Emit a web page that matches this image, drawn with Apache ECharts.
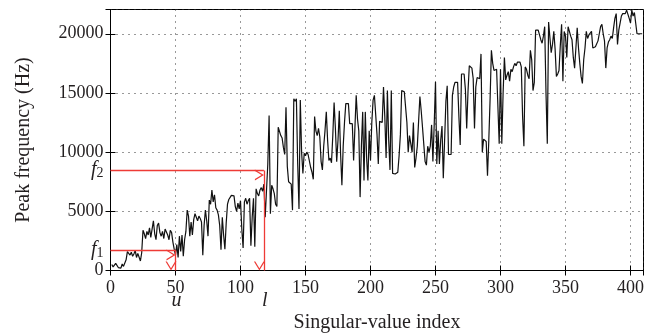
<!DOCTYPE html>
<html><head><meta charset="utf-8">
<script src="https://cdn.jsdelivr.net/npm/echarts@6/dist/echarts.min.js"></script>
<style>html,body{margin:0;padding:0;background:#fff}#c{width:656px;height:336px}</style>
</head><body><div id="c"></div>
<script>
// Peak frequency (Hz) for singular-value index 1..409
const peakFrequency = [
500,300,350,600,450,250,300,200,550,350,
400,900,1600,1500,1300,1550,1200,1400,1700,1100,
1450,1600,800,1500,3400,3100,2700,3300,3000,3600,
2800,3500,4200,3100,2600,3800,4000,3200,2900,3300,
2700,3500,3600,3000,2600,3400,3200,2400,1800,1300,
2200,1100,2900,1600,3000,1200,2600,3300,5100,4600,
2900,4100,3000,4300,4800,4500,4200,4600,4400,4100,
1300,3800,5100,4200,2900,5950,5600,6800,5800,6400,
5300,5100,4700,3800,1750,4500,3000,1800,4000,5600,
6000,6100,6350,6500,6300,5400,5000,5700,5200,5900,
3500,1900,5800,6100,5600,5900,6100,2100,4500,6100,
2000,6900,6500,6300,6800,7000,6700,7300,4500,4600,
9000,13100,4800,7200,6900,6500,5600,5400,12100,12000,
11400,11200,10400,9800,13800,8800,7500,7600,7300,5100,
14500,14300,14500,9000,5200,14400,10000,8200,9900,9700,
10000,9800,9900,8700,8300,7700,13000,11800,11400,12000,
11300,9200,8500,10500,11800,13400,11000,9300,9500,9100,
11400,14200,12000,9200,11000,13500,9800,7200,10500,12500,
14100,14000,14100,12400,12500,12400,9300,12000,14800,12800,
11800,6200,10500,13400,7600,13400,9500,7600,11800,9300,
12500,14400,14800,14700,11500,9000,12600,12600,12500,15500,
13000,9500,15200,11000,8500,15200,8200,8100,8150,8200,
8300,9700,11500,15200,15200,15100,15200,12500,10000,11400,
11500,10000,12500,8700,9500,10500,12600,14700,13500,12100,
12100,9200,8900,10500,10000,10500,12300,9200,12300,15950,
9000,11800,9000,11000,12200,7800,11000,14300,15600,9800,
9900,9800,14800,15500,15900,15800,15900,13000,10600,16600,
16500,16600,15300,12000,15100,17300,17200,17100,16200,12000,
15500,16300,16300,16200,18300,10000,11100,11200,10900,8000,
11000,14500,18600,17500,16900,16800,17000,16900,10700,17000,
10700,15000,18000,16100,16500,16800,16000,17000,16800,17200,
17500,17300,17600,17500,17600,17200,13000,10500,17200,17000,
16500,16200,18600,17800,15200,15900,20300,20200,20300,19900,
19500,19200,19800,20600,15000,10700,21000,20900,18400,19100,
20200,18700,16400,16600,16900,19000,20800,16000,20200,19800,
18000,20600,20200,19800,19500,18000,17100,18800,20500,18800,
17500,16400,15800,17800,18800,20200,19600,19900,20000,20200,
18800,18900,18900,18800,19400,20000,20600,20800,20000,19400,
17100,18800,19300,19500,19800,19600,20500,21300,21700,19100,
20300,20900,21500,21700,21800,21700,22000,22050,21300,20900,
22000,21500,21800,21900,20000,20000,20000,20000,20000
];
const markerIndexNames = ['u', 'l'];
const markerIndices = [50, 118];
const markerFreqSubs = ['1', '2'];
const markerFreqs = [1700, 8450];
const xAxisTitle = 'Singular-value index';
const yAxisTitle = 'Peak frequency (Hz)';

const FONT = 'Liberation Serif';
const TXT = '#231f20';
const RED = '#ee3b36';
const chevron = 'path://M0,10 L5,0 L10,10 L8.7,10 L5,2.6 L1.3,10 Z';

const seriesData = peakFrequency.map((v, i) => [i + 1, v]);
const arrowSegments = [];
markerIndices.forEach((ix, k) => {
  arrowSegments.push([{coord: [0, markerFreqs[k]]}, {coord: [ix, markerFreqs[k]]}]);
  arrowSegments.push([{coord: [ix, markerFreqs[k]]}, {coord: [ix, 0]}]);
});

const plain = v => String(v);
const gridLine = {show: true, lineStyle: {color: '#333', width: 1, type: [1, 5]}};
const chart = echarts.init(document.getElementById('c'), null, {renderer: 'canvas'});
chart.setOption({
  animation: false,
  backgroundColor: '#fff',
  grid: {left: 110.5, right: 12.5, top: 9.5, bottom: 65.5, show: true, borderColor: '#000', borderWidth: 1, outerBoundsMode: 'none'},
  xAxis: [{
    type: 'value', min: 0, max: 410, interval: 50, position: 'bottom',
    name: xAxisTitle, nameLocation: 'middle', nameGap: 42,
    nameTextStyle: {fontFamily: FONT, fontSize: 20, color: TXT},
    axisLine: {show: true, lineStyle: {color: '#000'}},
    axisTick: {show: true, inside: true, length: 5, lineStyle: {color: '#000'}},
    axisLabel: {fontFamily: FONT, fontSize: 18, color: TXT, margin: 9, showMaxLabel: false, formatter: plain},
    splitLine: gridLine
  }, {
    type: 'value', min: 0, max: 410, interval: 50, position: 'top',
    axisLine: {show: true, lineStyle: {color: '#000'}},
    axisTick: {show: true, inside: true, length: 5, lineStyle: {color: '#000'}},
    axisLabel: {show: false}, splitLine: {show: false}
  }],
  yAxis: [{
    type: 'value', min: 0, max: 22050, interval: 5000, position: 'left',
    name: yAxisTitle, nameLocation: 'middle', nameGap: 77, nameRotate: 90,
    nameTextStyle: {fontFamily: FONT, fontSize: 20, color: TXT},
    axisLine: {show: true, lineStyle: {color: '#000'}},
    axisTick: {show: true, inside: true, length: 5, lineStyle: {color: '#000'}},
    axisLabel: {fontFamily: FONT, fontSize: 18, color: TXT, margin: 7, showMaxLabel: false, formatter: plain},
    splitLine: gridLine
  }, {
    type: 'value', min: 0, max: 22050, interval: 5000, position: 'right',
    axisLine: {show: true, lineStyle: {color: '#000'}},
    axisTick: {show: true, inside: true, length: 5, lineStyle: {color: '#000'}},
    axisLabel: {show: false}, splitLine: {show: false}
  }],
  series: [{
    type: 'line', data: seriesData, showSymbol: false, symbol: 'none',
    lineStyle: {color: '#111', width: 1.2}, z: 3,
    markLine: {
      silent: true, symbol: ['none', chevron], symbolSize: [11, 9], symbolOffset: [0, 4.5],
      lineStyle: {color: RED, width: 1.3, type: 'solid'}, label: {show: false},
      data: arrowSegments
    }
  }]
});

const graphics = [];
markerIndices.forEach((ix, k) => {
  const pBottom = chart.convertToPixel({xAxisIndex: 0, yAxisIndex: 0}, [ix, 0]);
  const pLeft = chart.convertToPixel({xAxisIndex: 0, yAxisIndex: 0}, [0, markerFreqs[k]]);
  graphics.push({
    type: 'text', x: pBottom[0] + 1, y: pBottom[1] + 30,
    style: {text: markerIndexNames[k], font: 'italic 20px "' + FONT + '"', fill: TXT, align: 'center', verticalAlign: 'middle'}
  });
  graphics.push({
    type: 'text', x: pLeft[0] - 7, y: pLeft[1] - 1,
    style: {
      text: '{f|f}{s|' + markerFreqSubs[k] + '}', align: 'right', verticalAlign: 'middle',
      rich: {
        f: {fontFamily: FONT, fontStyle: 'italic', fontSize: 20, fill: TXT, lineHeight: 22},
        s: {fontFamily: FONT, fontSize: 14, fill: TXT, lineHeight: 14, verticalAlign: 'bottom'}
      }
    }
  });
});
chart.setOption({graphic: graphics});
</script>
</body></html>
